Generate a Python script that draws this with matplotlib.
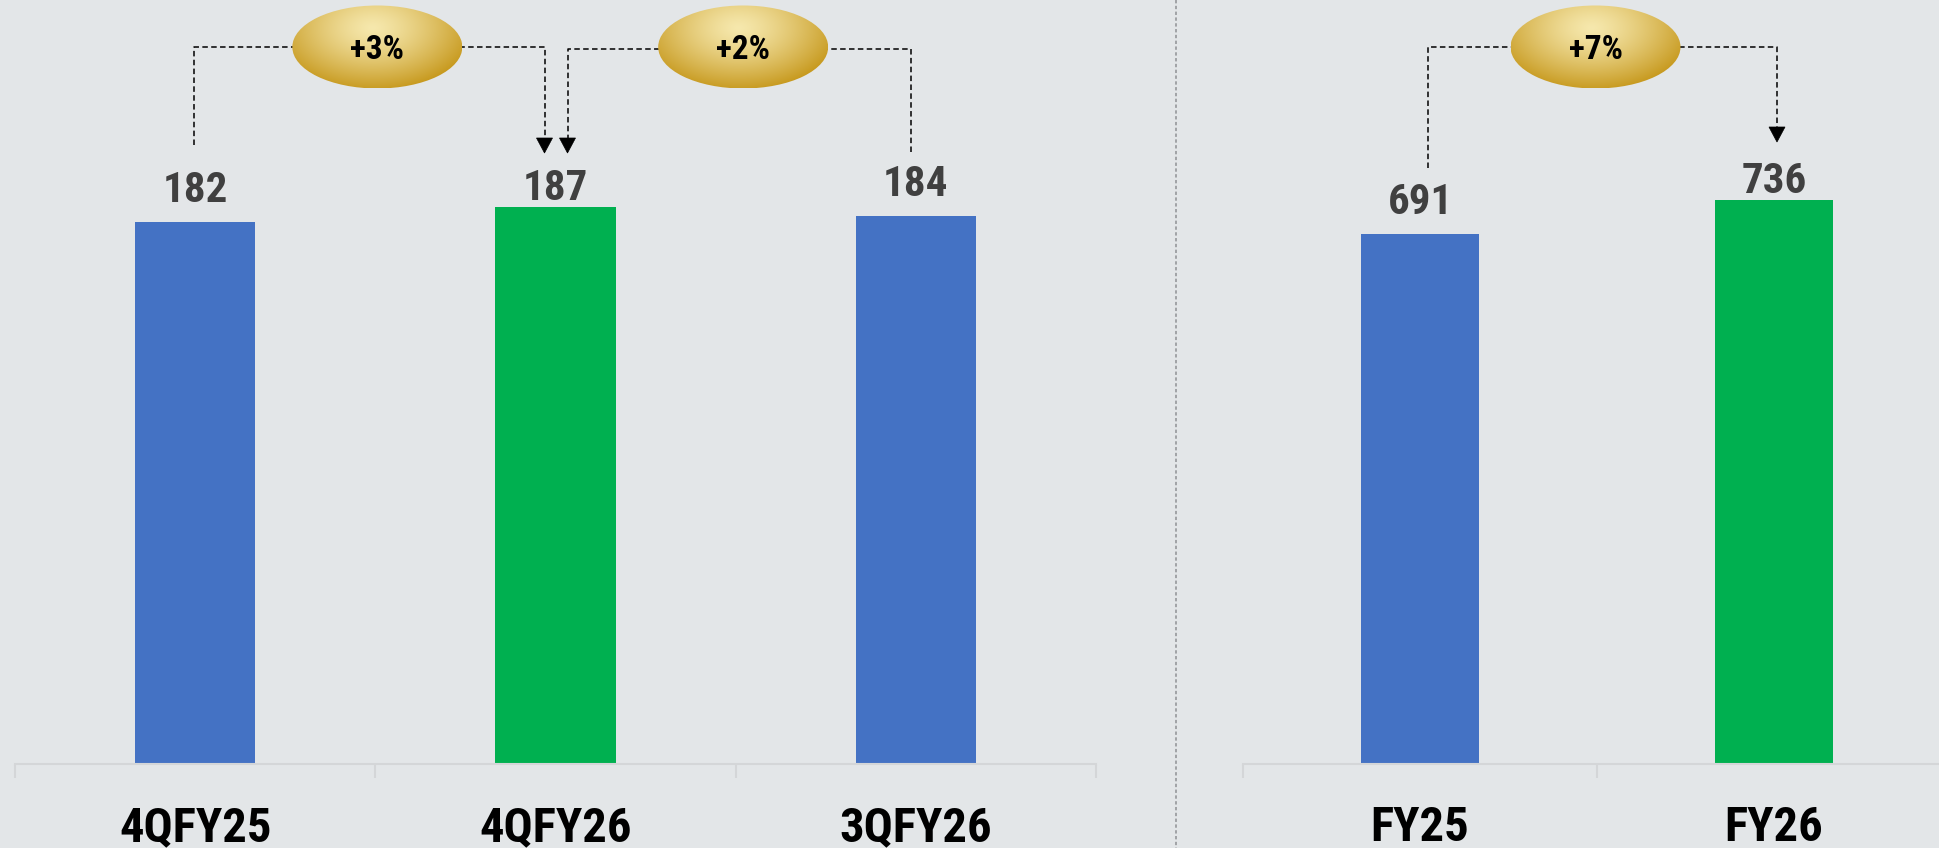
import numpy as np
import matplotlib
matplotlib.use("Agg")
import matplotlib.pyplot as plt
from matplotlib.patches import Ellipse, Polygon
from matplotlib.colors import to_rgb
from matplotlib import font_manager as fm

# ---------------- data ----------------
quarter_labels = ["4QFY25", "4QFY26", "3QFY26"]
quarter_values = [182, 187, 184]
quarter_colors = ["#4472C4", "#00B050", "#4472C4"]

year_labels = ["FY25", "FY26"]
year_values = [691, 736]
year_colors = ["#4472C4", "#00B050"]

# comparisons: (panel, from index, to index, label)
changes = [("q", 0, 1, "+3%"), ("q", 2, 1, "+2%"), ("y", 0, 1, "+7%")]

# ---------------- font choice (narrow bold sans) ----------------
_bold = {f.name for f in fm.fontManager.ttflist
         if (f.weight if isinstance(f.weight, int) else 400) >= 600 or f.weight == "bold"}
_pref = ["Liberation Sans Narrow", "Arial Narrow", "Archivo Narrow", "Roboto Condensed",
         "PT Sans Narrow", "Open Sans Condensed", "IBM Plex Sans Condensed"]
_main = next((n for n in _pref if n in _bold), "DejaVu Sans")
FONT = [_main, "DejaVu Sans"]

# ---------------- layout ----------------
W, H, DPI = 1939, 848, 100
BG = "#e3e6e8"
AXIS_COL = "#d4d6d8"

fig = plt.figure(figsize=(W / DPI, H / DPI), dpi=DPI, facecolor=BG)


def px_axes(left, right, bottom_from_top, top_from_top=0):
    return fig.add_axes([left / W, 1 - bottom_from_top / H,
                         (right - left) / W, (bottom_from_top - top_from_top) / H])


ax_q = px_axes(15, 1096, 764)
ax_y = px_axes(1243, 1951, 764)


def style_panel(ax, labels, values, colors, ymax, gaps_pt):
    x = np.arange(len(values))
    ax.bar(x, values, width=1 / 3, color=colors, zorder=2)
    ax.set_xlim(-0.5, len(values) - 0.5)
    ax.set_ylim(0, ymax)
    ax.set_facecolor("none")
    for s in ["top", "right", "left"]:
        ax.spines[s].set_visible(False)
    ax.spines["bottom"].set_color(AXIS_COL)
    ax.spines["bottom"].set_linewidth(1.5)
    ax.set_yticks([])
    ax.set_xticks(np.arange(len(values) + 1) - 0.5)
    ax.set_xticklabels([])
    ax.tick_params(axis="x", which="major", length=10, width=1.5,
                   color=AXIS_COL, direction="out")
    ax.set_xticks(x, labels, minor=True)
    ax.tick_params(axis="x", which="minor", length=0, pad=29.5)
    for t in ax.get_xticklabels(minor=True):
        t.set_fontfamily(FONT)
        t.set_fontweight("bold")
        t.set_fontsize(35)
        t.set_color("black")
    for xi, v, g in zip(x, values, gaps_pt):
        ax.annotate(f"{v}", (xi, v), xytext=(0, g), textcoords="offset points",
                    ha="center", va="baseline", fontsize=31, fontweight="bold",
                    color="#404040", family=FONT)


style_panel(ax_q, quarter_labels, quarter_values, quarter_colors, 256.4,
            [14.4, 5.0, 14.4])
style_panel(ax_y, year_labels, year_values, year_colors, 997.0,
            [14.4, 5.0])

# ---------------- overlay (pixel coordinates) ----------------
ov = fig.add_axes([0, 0, 1, 1])
ov.set_xlim(0, W)
ov.set_ylim(H, 0)
ov.axis("off")
ov.patch.set_visible(False)

# dashed separator between panels
ov.plot([1176, 1176], [0, H], color="#8f9194", lw=1.1, ls=(0, (2.2, 1.6)))

panels = {"q": ax_q, "y": ax_y}
values_of = {"q": quarter_values, "y": year_values}

# bracket geometry (pixel offsets from bar centres / figure top)
bracket_style = [
    dict(dx0=-1, y0=145, dx1=-11, y1=153, yb=47, edx=8),
    dict(dx0=-5, y0=152, dx1=12, y1=153, yb=49, edx=4),
    dict(dx0=8, y0=168, dx1=3, y1=142, yb=47, edx=-7),
]

light = np.array(to_rgb("#f6e8ad"))
dark = np.array(to_rgb("#c59618"))


def gold_ellipse(cx, cy, w, h, text):
    n = 240
    xs = np.linspace(-1, 1, n)
    X, Y = np.meshgrid(xs, xs)
    r = np.sqrt((X + 0.05) ** 2 + ((Y + 0.45) / 1.25) ** 2)
    t = np.clip(r / 1.25, 0, 1) ** 1.3
    img = light[None, None, :] * (1 - t[..., None]) + dark[None, None, :] * t[..., None]
    el = Ellipse((cx, cy), w, h, transform=ov.transData, facecolor="none",
                 edgecolor="none")
    ov.add_patch(el)
    im = ov.imshow(img, extent=(cx - w / 2, cx + w / 2, cy + h / 2, cy - h / 2),
                   origin="upper", aspect="auto", interpolation="bilinear", zorder=3)
    im.set_clip_path(el)
    ov.text(cx, cy + 3, text, ha="center", va="center", fontsize=24,
            fontweight="bold", color="black", family=FONT, zorder=4)


DASH = (0, (3.6, 2.2))
for (panel, i, j, txt), st in zip(changes, bracket_style):
    ax = panels[panel]
    vals = values_of[panel]
    x0 = ax.transData.transform((i, vals[i]))[0] + st["dx0"]
    x1 = ax.transData.transform((j, vals[j]))[0] + st["dx1"]
    yb = st["yb"]
    head = 15
    ov.plot([x0, x0, x1, x1], [st["y0"], yb, yb, st["y1"] - head],
            color="black", lw=1.1, ls=DASH, zorder=2)
    ov.add_patch(Polygon([[x1 - 8, st["y1"] - head], [x1 + 8, st["y1"] - head],
                          [x1, st["y1"]]], closed=True, facecolor="black",
                         edgecolor="black", lw=0.5, zorder=2))
    cx = (x0 + x1) / 2 + st["edx"]
    gold_ellipse(cx, 47, 170, 83, txt)

fig.savefig("out.png", dpi=DPI, facecolor=BG)
